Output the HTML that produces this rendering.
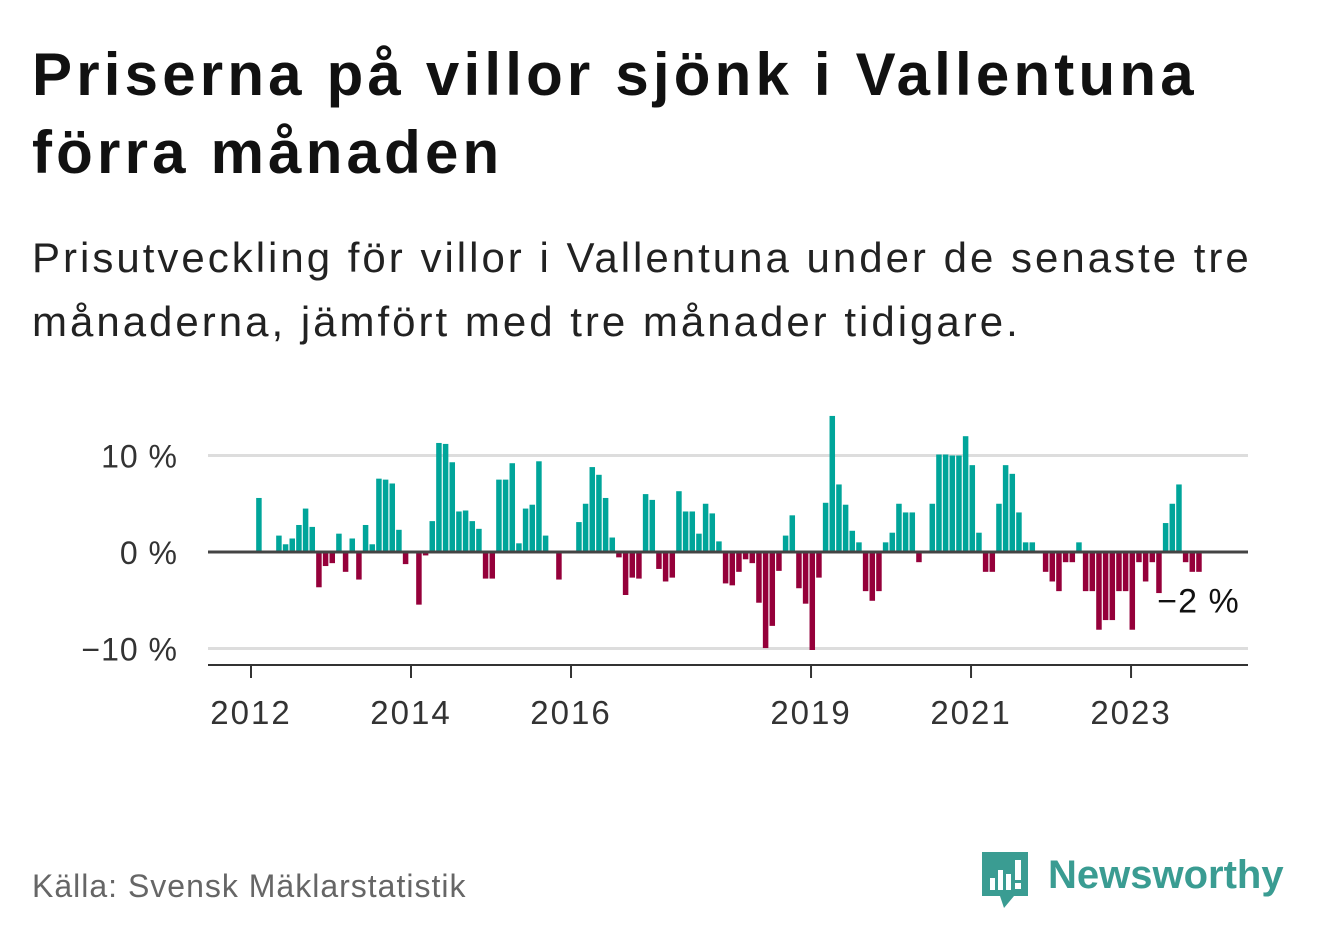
<!DOCTYPE html>
<html><head><meta charset="utf-8">
<style>
body{margin:0;background:#fff;width:1322px;height:939px;overflow:hidden;font-family:"Liberation Sans",sans-serif;}
#title{position:absolute;left:32px;top:36px;font-size:60px;font-weight:bold;line-height:78px;color:#111;margin:0;letter-spacing:4.2px}
#sub{position:absolute;left:32px;top:226px;font-size:42px;line-height:64px;color:#222;margin:0;letter-spacing:3px}
#src{position:absolute;left:32px;top:868px;font-size:32px;color:#666;letter-spacing:1px}
#logo{position:absolute;left:980px;top:848px}
svg text{font-family:"Liberation Sans",sans-serif}
</style></head><body>
<h1 id="title">Priserna på villor sjönk i Vallentuna<br>förra månaden</h1>
<p id="sub">Prisutveckling för villor i Vallentuna under de senaste tre<br>månaderna, jämfört med tre månader tidigare.</p>
<svg id="chart" width="1322" height="939" style="position:absolute;left:0;top:0"></svg>
<div id="src">Källa: Svensk Mäklarstatistik</div>
<div id="logo">
<svg width="320" height="70">
<path d="M2 4h46v44h-14l-10 12-4-12h-18z" fill="#3a9c92"/>
<rect x="10" y="30" width="5" height="12" fill="#fff"/><rect x="18" y="22" width="5" height="20" fill="#fff"/><rect x="26" y="26" width="5" height="16" fill="#fff"/><rect x="35" y="12" width="6" height="20" fill="#fff"/><rect x="35" y="35" width="6" height="6" fill="#fff"/>
<text x="68" y="40" font-size="40" font-weight="bold" fill="#3a9c92">Newsworthy</text>
</svg></div>
<script>
const years=[2012,2014,2016,2019,2021,2023];
const yTicks=[10,0,-10];
const yTickLabels=["10 %","0 %","−10 %"];
const startYear=2012;
const values=[0,5.6,0,0,1.7,0.8,1.4,2.8,4.5,2.6,-3.5,-1.3,-1.0,1.9,-1.9,1.4,-2.7,2.8,0.8,7.6,7.5,7.1,2.3,-1.1,0,-5.3,-0.2,3.2,11.3,11.2,9.3,4.2,4.3,3.2,2.4,-2.6,-2.6,7.5,7.5,9.2,0.9,4.5,4.9,9.4,1.7,0,-2.7,0,0,3.1,5.0,8.8,8.0,5.6,1.5,-0.4,-4.3,-2.5,-2.6,6.0,5.4,-1.6,-2.9,-2.5,6.3,4.2,4.2,1.9,5.0,4.0,1.1,-3.1,-3.3,-1.9,-0.6,-1.0,-5.1,-9.8,-7.5,-1.8,1.7,3.8,-3.6,-5.2,-10.0,-2.5,5.1,14.1,7.0,4.9,2.2,1.0,-3.9,-4.9,-3.9,1.0,2.0,5.0,4.1,4.1,-0.9,0,5.0,10.1,10.1,10,10,12.0,9.0,2.0,-1.9,-1.9,5.0,9.0,8.1,4.1,1.0,1.0,0,-1.9,-2.9,-3.9,-0.9,-0.9,1.0,-3.9,-3.9,-7.9,-6.9,-6.9,-3.9,-3.9,-7.9,-0.9,-2.9,-0.9,-4.1,3.0,5.0,7.0,-0.9,-1.9,-1.9];
const lastLabel="−2 %";
const NS="http://www.w3.org/2000/svg";
const svg=document.getElementById('chart');
const x=m=>251+m*6.667;
const y=v=>552-v*9.65;
function mk(t,a){const e=document.createElementNS(NS,t);for(const k in a)e.setAttribute(k,a[k]);svg.appendChild(e);return e;}
yTicks.forEach((t,i)=>{
 if(t!==0){const g=mk('line',{x1:208,x2:1248,y1:y(t),y2:y(t),stroke:'#ddd','stroke-width':3});
 
 }
 const l=mk('text',{x:178,y:y(t)+12,'text-anchor':'end','font-size':32,'letter-spacing':1,fill:'#333'});
 l.textContent=yTickLabels[i];
 
 
});
values.forEach((v,i)=>{
 if(v===0)return;
 const top=v>0?y(v):y(0)+1.5,h=Math.abs(y(v)-y(0));
 const r=mk('rect',{x:x(i)-1.5,y:top,width:5.5,height:h,fill:v>0?'#00a59a':'#95003a'});
 
 
});
const z=mk('line',{x1:208,x2:1248,y1:y(0),y2:y(0),stroke:'#444','stroke-width':3});


const ax=mk('line',{x1:208,x2:1248,y1:665,y2:665,stroke:'#333','stroke-width':2});


years.forEach(yr=>{
 const px=x((yr-startYear)*12);
 const t=mk('line',{x1:px,x2:px,y1:665,y2:678,stroke:'#333','stroke-width':2});
 
 
 const l=mk('text',{x:px,y:724,'text-anchor':'middle','font-size':33,'letter-spacing':2,fill:'#333'});
 l.textContent=yr;
 
 
});
const last=values.length-1;
const ll=mk('text',{x:x(last)+42,y:y(values[last])+42,'text-anchor':'end','font-size':34,'letter-spacing':1,fill:'#111'});
ll.textContent=lastLabel;


</script>
</body></html>
